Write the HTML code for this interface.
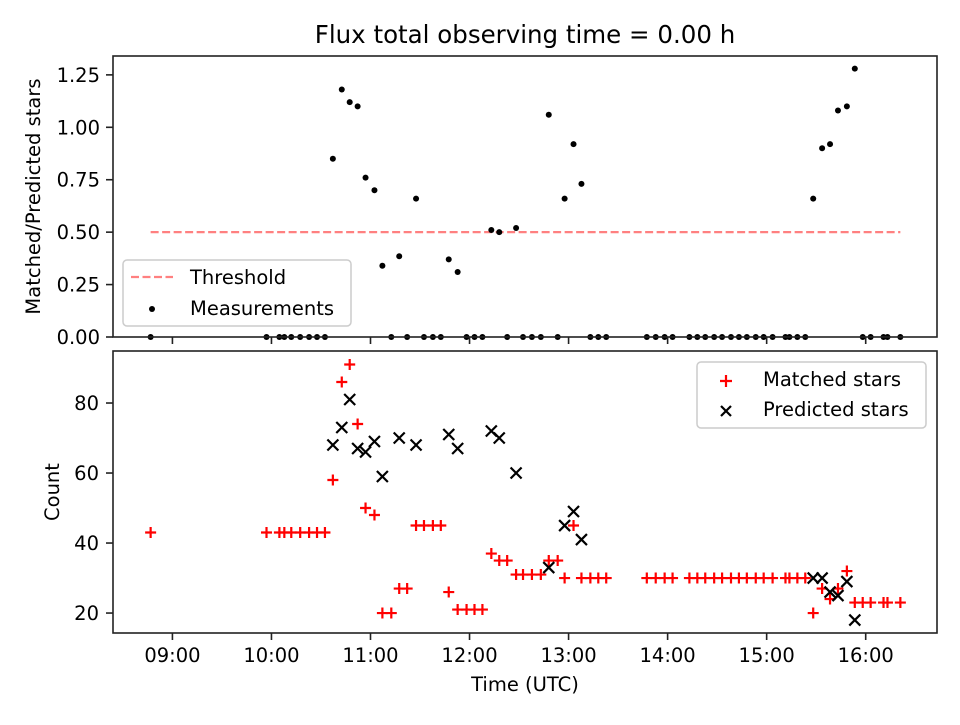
<!DOCTYPE html>
<html><head><meta charset="utf-8"><style>
body{margin:0;background:#fff;font-family:"Liberation Sans","DejaVu Sans",sans-serif}
svg text{font-family:"DejaVu Sans","Liberation Sans",sans-serif;fill:#000}
</style></head><body>
<svg id="c" width="960" height="720" viewBox="0 0 960 720"></svg>
<script>
const times=[8.78,9.95,10.08,10.13,10.20,10.29,10.38,10.46,10.54,10.62,10.71,10.79,10.87,10.95,11.04,11.12,11.21,11.29,11.37,11.46,11.54,11.63,11.71,11.79,11.88,11.97,12.05,12.13,12.22,12.30,12.38,12.47,12.54,12.63,12.72,12.80,12.89,12.96,13.05,13.13,13.22,13.30,13.38,13.79,13.88,13.97,14.05,14.22,14.30,14.38,14.47,14.55,14.64,14.72,14.80,14.89,14.97,15.06,15.19,15.23,15.31,15.39,15.47,15.56,15.64,15.72,15.81,15.89,15.97,16.05,16.18,16.22,16.35];
const matched=[43,43,43,43,43,43,43,43,43,58,86,91,74,50,48,20,20,27,27,45,45,45,45,26,21,21,21,21,37,35,35,31,31,31,31,35,35,30,45,30,30,30,30,30,30,30,30,30,30,30,30,30,30,30,30,30,30,30,30,30,30,30,20,27,24,27,32,23,23,23,23,23,23];
const predicted=[null,null,null,null,null,null,null,null,null,68,73,81,67,66,69,59,null,70,null,68,null,null,null,71,67,null,null,null,72,70,null,60,null,null,null,33,null,45,49,41,null,null,null,null,null,null,null,null,null,null,null,null,null,null,null,null,null,null,null,null,null,null,30,30,26,25,29,18,null,null,null,null,null];
const ratio=[0,0,0,0,0,0,0,0,0,0.85,1.18,1.12,1.10,0.76,0.70,0.34,0,0.385,0,0.66,0,0,0,0.37,0.31,0,0,0,0.51,0.50,0,0.52,0,0,0,1.06,0,0.66,0.92,0.73,0,0,0,0,0,0,0,0,0,0,0,0,0,0,0,0,0,0,0,0,0,0,0.66,0.90,0.92,1.08,1.10,1.28,0,0,0,0,0];
const threshold=0.5, thrStart=8.78, thrEnd=16.35;
const xTicks=[9,10,11,12,13,14,15,16];
const xTickLabels=["09:00","10:00","11:00","12:00","13:00","14:00","15:00","16:00"];
const topTicks=[0,0.25,0.5,0.75,1.0,1.25];
const topTickLabels=["0.00","0.25","0.50","0.75","1.00","1.25"];
const botTicks=[20,40,60,80];

const NS="http://www.w3.org/2000/svg",svg=document.getElementById('c');
function el(t,a,p){const e=document.createElementNS(NS,t);for(const k in a)e.setAttribute(k,a[k]);(p||svg).appendChild(e);return e;}
const L=113,R=937,FS=19.5,SP='#222',SW=1.6;
const X=h=>L+(h-8.4)*(R-L)/(16.72-8.4);
const T1=56,B1=337,T2=351,B2=633;
const Y1=v=>B1-(v-0)*(B1-T1)/1.34;
const Y2=v=>B2-(v-14.3)*(B2-T2)/(94.86-14.3);

let t=el('text',{x:525,y:43,'font-size':'24.5','text-anchor':'middle'});t.textContent="Flux total observing time = 0.00 h";



// top panel
const g1=el('g',{});


let thr=el('line',{x1:X(thrStart),x2:X(thrEnd),y1:Y1(threshold),y2:Y1(threshold),stroke:'#ff8080','stroke-width':2.2,'stroke-dasharray':'8,3.5'},g1);


times.forEach((h,i)=>{const c=el('circle',{cx:X(h),cy:Y1(ratio[i]),r:3,fill:'#000'},g1);

});
topTicks.forEach((v,i)=>{el('line',{x1:L-7,x2:L,y1:Y1(v),y2:Y1(v),stroke:SP,'stroke-width':SW},g1);
const tx=el('text',{x:L-13,y:Y1(v)+7,'font-size':FS,'text-anchor':'end'},g1);tx.textContent=topTickLabels[i];

});
xTicks.forEach(h=>el('line',{x1:X(h),x2:X(h),y1:B1,y2:B1+7,stroke:SP,'stroke-width':SW},g1));
el('rect',{x:L,y:T1,width:R-L,height:B1-T1,fill:'none',stroke:SP,'stroke-width':SW},g1);
let yl=el('text',{x:40,y:(T1+B1)/2,'font-size':FS,'text-anchor':'middle',transform:`rotate(-90 40 ${(T1+B1)/2})`},g1);yl.textContent="Matched/Predicted stars";


const lg1=el('g',{},g1);


el('rect',{x:123,y:260,width:228,height:66,rx:4,fill:'#fff','fill-opacity':0.8,stroke:'#ccc','stroke-width':1.5},lg1);
el('line',{x1:131,x2:173,y1:277,y2:277,stroke:'#ff8080','stroke-width':2.2,'stroke-dasharray':'8,3.5'},lg1);
let lt=el('text',{x:190,y:284,'font-size':FS},lg1);lt.textContent="Threshold";
el('circle',{cx:152,cy:309,r:3,fill:'#000'},lg1);
lt=el('text',{x:190,y:315,'font-size':FS},lg1);lt.textContent="Measurements";

// bottom panel
const g2=el('g',{});


times.forEach((h,i)=>{const x=X(h),y=Y2(matched[i]);
const p=el('path',{d:`M${x-5.5} ${y}H${x+5.5}M${x} ${y-5.5}V${y+5.5}`,stroke:'#f00','stroke-width':2.2},g2);

});
times.forEach((h,i)=>{if(predicted[i]==null)return;const x=X(h),y=Y2(predicted[i]);
const p=el('path',{d:`M${x-5.5} ${y-5.5}L${x+5.5} ${y+5.5}M${x-5.5} ${y+5.5}L${x+5.5} ${y-5.5}`,stroke:'#000','stroke-width':2.2},g2);

});
botTicks.forEach(v=>{el('line',{x1:L-7,x2:L,y1:Y2(v),y2:Y2(v),stroke:SP,'stroke-width':SW},g2);
const tx=el('text',{x:L-14,y:Y2(v)+7,'font-size':FS,'text-anchor':'end'},g2);tx.textContent=v;

});
xTicks.forEach((h,i)=>{el('line',{x1:X(h),x2:X(h),y1:B2,y2:B2+7,stroke:SP,'stroke-width':SW},g2);
const tx=el('text',{x:X(h),y:B2+29,'font-size':FS,'text-anchor':'middle'},g2);tx.textContent=xTickLabels[i];

});
el('rect',{x:L,y:T2,width:R-L,height:B2-T2,fill:'none',stroke:SP,'stroke-width':SW},g2);
yl=el('text',{x:59,y:(T2+B2)/2,'font-size':FS,'text-anchor':'middle',transform:`rotate(-90 59 ${(T2+B2)/2})`},g2);yl.textContent="Count";


let xl=el('text',{x:525,y:691,'font-size':FS,'text-anchor':'middle'},g2);xl.textContent="Time (UTC)";


const lg2=el('g',{},g2);


el('rect',{x:697,y:362,width:229,height:66,rx:4,fill:'#fff','fill-opacity':0.8,stroke:'#ccc','stroke-width':1.5},lg2);
el('path',{d:'M720 381H732M726 375V387',stroke:'#f00','stroke-width':2.2},lg2);
lt=el('text',{x:763,y:386,'font-size':FS},lg2);lt.textContent="Matched stars";
el('path',{d:'M721 406L731 416M721 416L731 406',stroke:'#000','stroke-width':2.2},lg2);
lt=el('text',{x:763,y:416,'font-size':FS},lg2);lt.textContent="Predicted stars";
</script>
</body></html>
